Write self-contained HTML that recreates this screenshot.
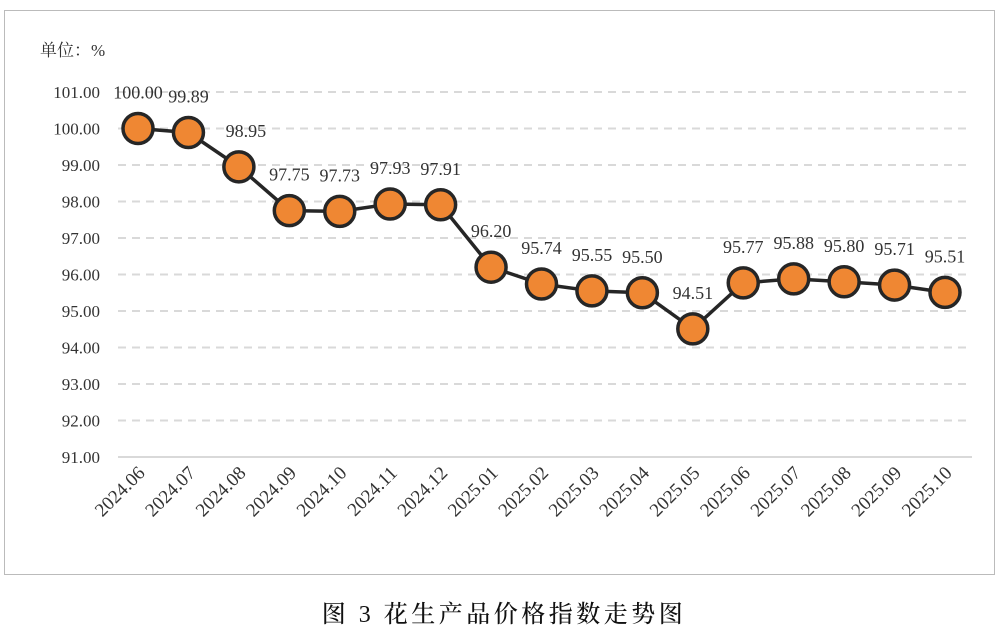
<!DOCTYPE html>
<html><head><meta charset="utf-8"><style>
body{margin:0;background:#fff;width:1003px;height:632px;overflow:hidden}
svg text{font-family:"Liberation Serif","Noto Serif CJK SC",serif;fill:#333}
</style></head><body>
<svg width="1003" height="632">
<rect x="4.5" y="10.5" width="990" height="564" fill="#fff" stroke="#bbb"/>
<text x="40" y="56" font-size="17" font-family="Liberation Serif, Noto Serif CJK SC, serif">单位：%</text>
<g id="grid"></g><g id="ylab"></g><g id="xlab"></g><g id="series"></g>
<text x="504" y="622" font-size="24" letter-spacing="3.5" style="fill:#111;font-weight:500" text-anchor="middle" font-family="Noto Serif CJK SC, serif">图 3  花生产品价格指数走势图</text>
</svg>
<script>
const categories=["2024.06","2024.07","2024.08","2024.09","2024.10","2024.11","2024.12","2025.01","2025.02","2025.03","2025.04","2025.05","2025.06","2025.07","2025.08","2025.09","2025.10"];
const values=[100.00,99.89,98.95,97.75,97.73,97.93,97.91,96.20,95.74,95.55,95.50,94.51,95.77,95.88,95.80,95.71,95.51];
const yTicks=[91,92,93,94,95,96,97,98,99,100,101];
const NS="http://www.w3.org/2000/svg";
const y=v=>457-(v-91)*36.5;
const x=i=>138+i*(945-138)/(categories.length-1);
function mk(t,a,p){const e=document.createElementNS(NS,t);for(const k in a)e.setAttribute(k,a[k]);p.appendChild(e);return e;}
const G=document.getElementById('grid'),YL=document.getElementById('ylab'),XL=document.getElementById('xlab'),S=document.getElementById('series');
yTicks.forEach(v=>{
 const l=mk('line',{x1:118,x2:972,y1:y(v),y2:y(v),stroke:'#d9d9d9','stroke-width':2,'stroke-dasharray':v===91?'none':'8,6'},G);
 
 
 const t=mk('text',{x:100,y:y(v)+6,'font-size':17,'text-anchor':'end'},YL);t.textContent=v.toFixed(2);
 
 
});
categories.forEach((c,i)=>{
 const t=mk('text',{x:x(i)+8,y:474,'font-size':19,'text-anchor':'end',transform:`rotate(-45 ${x(i)+8} 474)`},XL);t.textContent=c;
 
 
});
const pl=mk('polyline',{points:values.map((v,i)=>x(i)+','+y(v)).join(' '),fill:'none',stroke:'#262626','stroke-width':3.5},S);


values.forEach((v,i)=>{
 const c=mk('circle',{cx:x(i),cy:y(v),r:15,fill:'#EF8733',stroke:'#262626','stroke-width':3.5},S);
 
 
 const dx=i===2?7:0;
 const t=mk('text',{x:x(i)+dx,y:y(v)-30,'font-size':18,'text-anchor':'middle'},S);t.textContent=v.toFixed(2);
 
 
});
</script>
</body></html>
